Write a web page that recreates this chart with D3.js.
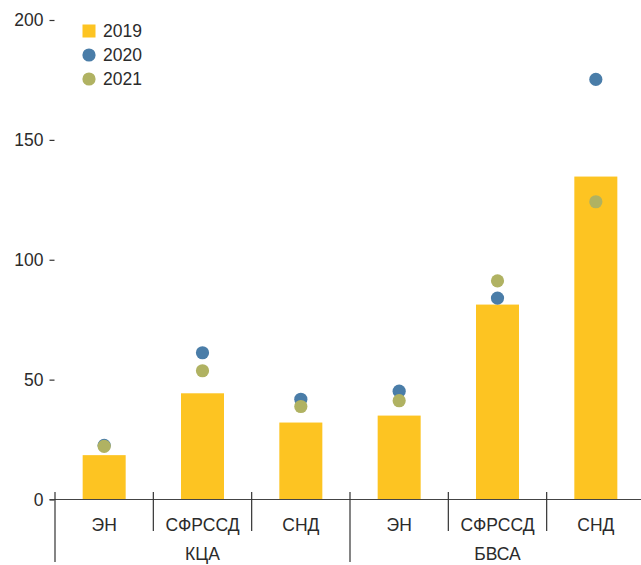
<!DOCTYPE html>
<html>
<head>
<meta charset="utf-8">
<script src="https://cdn.jsdelivr.net/npm/d3@7"></script>
<style>
  body { margin: 0; background: #fff; }
  svg text { font-family: "Liberation Sans", Arial, sans-serif; fill: #2b2b2b; }
</style>
</head>
<body>
<svg width="641" height="565"></svg>
<script>
// data
var groups = ["КЦА", "БВСА"]
var categories = ["ЭН", "СФРССД", "СНД"]
var years = ["2019", "2020", "2021"]
var values2019 = [18.5, 44.3, 32.1, 35.0, 81.3, 134.7]
var values2020 = [22.6, 61.2, 41.8, 45.2, 84.0, 175.2]
var values2021 = [22.2, 53.7, 38.8, 41.2, 91.2, 124.2]
var yTicks = [0, 50, 100, 150, 200]

var colors = { "2019": "#fdc422", "2020": "#4a7da8", "2021": "#b0b262" }
var fontSize = "17.5px"

var rows = []
groups.forEach(function (g, gi) {
    categories.forEach(function (c, ci) {
        var i = gi * categories.length + ci
        rows.push({ key: g + "|" + c, group: g, cat: c, first: ci == 0,
                    v2019: values2019[i], v2020: values2020[i], v2021: values2021[i] })
    })
})

var svg = d3.select("svg")

var x = d3.scaleBand()
    .domain(rows.map(function (d) { return d.key }))
    .range([55, 645])

var y = d3.scaleLinear()
    .domain([0, 200])
    .range([499.5, 20])

var barW = 43

// y axis ticks (no domain line)
var yAxis = svg.append("g")
    .attr("transform", "translate(54.5,0)")
    .call(d3.axisLeft(y).tickValues(yTicks).tickSize(5).tickPadding(6))
yAxis.select(".domain").remove()
yAxis.selectAll("line").attr("stroke", "#333").attr("stroke-width", 1.2)
yAxis.selectAll("text").style("font-size", fontSize).attr("fill", "#2b2b2b")

// bars 2019
svg.append("g").selectAll("rect")
    .data(rows)
    .enter().append("rect")
    .attr("x", function (d) { return x(d.key) + x.bandwidth() / 2 - barW / 2 })
    .attr("width", barW)
    .attr("y", function (d) { return y(d.v2019) })
    .attr("height", function (d) { return y(0) - y(d.v2019) })
    .attr("fill", colors["2019"])

// dots 2020 then 2021 on top
;["2020", "2021"].forEach(function (yr) {
    svg.append("g").selectAll("circle")
        .data(rows)
        .enter().append("circle")
        .attr("cx", function (d) { return x(d.key) + x.bandwidth() / 2 })
        .attr("cy", function (d) { return y(d["v" + yr]) })
        .attr("r", 6.6)
        .attr("fill", colors[yr])
})

// baseline
svg.append("line")
    .attr("x1", 49.5).attr("x2", 641)
    .attr("y1", y(0)).attr("y2", y(0))
    .attr("stroke", "#444").attr("stroke-width", 1.2)

// separators between categories / groups
svg.append("g").selectAll("line")
    .data(rows)
    .enter().append("line")
    .attr("x1", function (d) { return x(d.key) })
    .attr("x2", function (d) { return x(d.key) })
    .attr("y1", 492)
    .attr("y2", function (d) { return d.first ? 562 : 531 })
    .attr("stroke", "#333").attr("stroke-width", 1.2)

// category labels
svg.append("g").selectAll("text")
    .data(rows)
    .enter().append("text")
    .attr("x", function (d) { return x(d.key) + x.bandwidth() / 2 })
    .attr("y", 531)
    .attr("text-anchor", "middle")
    .style("font-size", fontSize)
    .text(function (d) { return d.cat })

// group labels
svg.append("g").selectAll("text")
    .data(groups)
    .enter().append("text")
    .attr("x", function (g) {
        var ks = rows.filter(function (r) { return r.group == g })
        return (x(ks[0].key) + x(ks[ks.length - 1].key) + x.bandwidth()) / 2
    })
    .attr("y", 560)
    .attr("text-anchor", "middle")
    .style("font-size", fontSize)
    .text(function (g) { return g })

// legend
var legend = svg.selectAll(".legend")
    .data(years)
    .enter().append("g")
    .attr("class", "legend")
    .attr("transform", function (d, i) { return "translate(89," + (31 + i * 24) + ")" })
legend.each(function (d, i) {
    var g = d3.select(this)
    if (i == 0) {
        g.append("rect").attr("x", -6.5).attr("y", -6.5).attr("width", 13).attr("height", 13)
            .attr("fill", colors[d])
    } else {
        g.append("circle").attr("r", 6.6).attr("fill", colors[d])
    }
})
legend.append("text")
    .attr("x", 14)
    .attr("dy", "0.35em")
    .style("font-size", fontSize)
    .text(function (d) { return d })
</script>
</body>
</html>
